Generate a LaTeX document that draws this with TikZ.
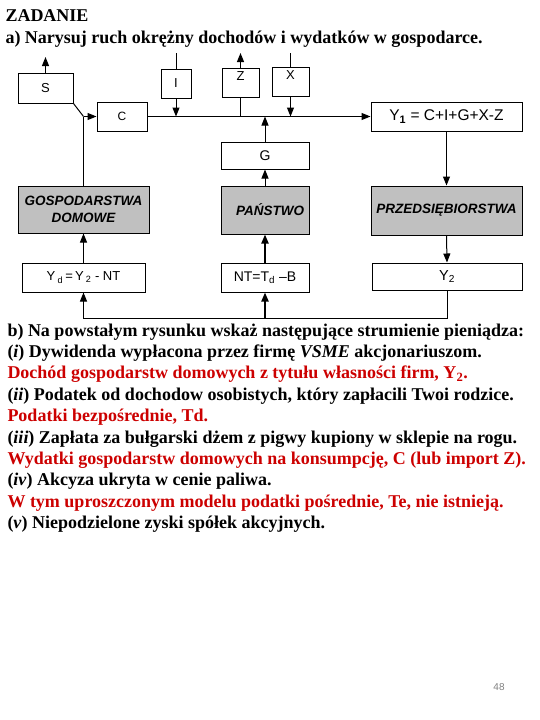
\documentclass[tikz,border=0pt]{standalone}
\usepackage{fontspec}
\setmainfont{Liberation Serif}
\setsansfont{Liberation Sans}
\usetikzlibrary{arrows.meta}

\definecolor{answer}{RGB}{204,0,0}
\definecolor{sectorgray}{RGB}{192,192,192}

\tikzset{
  flow/.style={rectangle,draw,line width=1pt,inner sep=0pt,font=\sffamily\fontsize{13}{13}\selectfont},
  sector/.style={flow,fill=sectorgray,align=center,font=\sffamily\bfseries\itshape\fontsize{13.5}{17}\selectfont},
  arr/.style={-{Triangle[length=9pt,width=7pt]}},
  heavy/.style={line width=2pt},
  textline/.style={anchor=base west,inner sep=0pt,font=\bfseries\fontsize{18}{18}\selectfont},
}

\begin{document}
\begin{tikzpicture}[x=1pt,y=-1pt,line width=1pt]

    \useasboundingbox (0,0) rectangle (540,720);

    % task text
    \node[textline] (title) at (5,21) {ZADANIE};
    \node[textline] (taskA) at (5,43.5) {a) Narysuj ruch okrężny dochodów i wydatków w gospodarce.};

    % top row
    \node[flow,minimum width=55pt,minimum height=30pt] (S) at (45.5,88) {S};
    \node[flow,minimum width=30pt,minimum height=29pt] (I) at (176,83.5) {I};
    \node[flow,minimum width=37pt,minimum height=29pt,text depth=12pt] (Z) at (240.5,82.5) {Z};
    \node[flow,minimum width=37pt,minimum height=29pt,text depth=12pt] (X) at (290.5,81.5) {X};
    \node[flow,minimum width=50pt,minimum height=29pt,font=\sffamily\fontsize{12}{12}\selectfont] (C) at (122,116.5) {C};
    \node[flow,minimum width=151pt,minimum height=29pt,font=\sffamily\fontsize{15.5}{15.5}\selectfont] (Y1) at (446.5,116.5)
        {Y\textsubscript{\textbf{1}} = C+I+G+X-Z};
    \node[flow,minimum width=88pt,minimum height=27pt,font=\sffamily\fontsize{14}{14}\selectfont] (G) at (265,155.5) {G};

    % sectors
    \node[sector,minimum width=131pt,minimum height=47pt] (H) at (83.5,209.5) {GOSPODARSTWA\\DOMOWE};
    \node[sector,minimum width=88pt,minimum height=48pt] (P) at (265,210) {\hspace*{10pt}PAŃSTWO};
    \node[sector,minimum width=151pt,minimum height=49pt] (F) at (446.5,210.5) {PRZEDSIĘBIORSTWA};

    % incomes
    \node[flow,minimum width=123pt,minimum height=29pt] (Yd) at (83.5,277.5)
        {Y\,\textsubscript{d}\,=\,Y\,\textsubscript{2} - NT};
    \node[flow,minimum width=88pt,minimum height=29pt,font=\sffamily\fontsize{14}{14}\selectfont] (NT) at (265,277.5) {NT=T\textsubscript{d} –B};
    \node[flow,minimum width=150pt,minimum height=27pt,font=\sffamily\fontsize{14.5}{14.5}\selectfont] (Y2) at (447,276.5) {Y\textsubscript{2}};

    % free ends
    \coordinate (Sout) at (45.5,57);
    \coordinate (Iin) at (176,53);
    \coordinate (Zout) at (240.5,53);
    \coordinate (Xin) at (290.5,53);
    \coordinate (loop) at ([yshift=-26pt]Yd.south);

    % connectors
    \draw[arr] (S.north) -- (Sout);
    \draw (Iin) -- (I.north);
    \draw[arr] (I.south) -- (I.south |- C.east);
    \draw[arr] (Z.north) -- (Zout);
    \draw (Z.south) -- (Z.south |- C.east);
    \draw (Xin) -- (X.north);
    \draw[arr] (X.south) -- (X.south |- C.east);
    \draw[arr] (C.east) -- (Y1.west);
    \draw[arr] (G.north) -- (G.north |- C.east);
    \draw[arr] (P.north) -- (G.south);
    \draw[arr] (Y1.south) -- (F.north);
    \draw[arr] (F.south) -- (Y2.north);
    \draw (Y2.south) |- (loop);
    \draw[arr] (loop) -- (Yd.south);
    \draw[arr,heavy] (NT.south |- loop) -- (NT.south);
    \draw[arr,heavy] (NT.north) -- (P.south);
    \draw[arr] (Yd.north) -- (H.south);
    \draw (H.north) -- (H.north |- C.west) coordinate (join);
    \draw[arr] (join) -- (C.west);
    \draw (S.south east) -- (join);

    % task b
    \node[textline] (taskB) at (7,336) {b) Na powstałym rysunku wskaż następujące strumienie pieniądza:};
    \node[textline] (q1) at (7,357.4) {(\textit{i}) Dywidenda wypłacona przez firmę \textit{VSME} akcjonariuszom.};
    \node[textline,text=answer] (a1) at (7,378.8) {Dochód gospodarstw domowych z tytułu własności firm, Y\textsubscript{2}.};
    \node[textline] (q2) at (7,400.2) {(\textit{ii}) Podatek od dochodow osobistych, który zapłacili Twoi rodzice.};
    \node[textline,text=answer] (a2) at (7,421.6) {Podatki bezpośrednie, Td.};
    \node[textline] (q3) at (7,443) {(\textit{iii}) Zapłata za bułgarski dżem z pigwy kupiony w sklepie na rogu.};
    \node[textline,text=answer] (a3) at (7,464.4) {Wydatki gospodarstw domowych na konsumpcję, C (lub import Z).};
    \node[textline] (q4) at (7,485.8) {(\textit{iv}) Akcyza ukryta w cenie paliwa.};
    \node[textline,text=answer] (a4) at (7,507.2) {W tym uproszczonym modelu podatki pośrednie, Te, nie istnieją.};
    \node[textline] (q5) at (7,528.6) {(\textit{v}) Niepodzielone zyski spółek akcyjnych.};

    \node[font=\sffamily\fontsize{10}{10}\selectfont,text=gray] (page) at (499,687) {48};

\end{tikzpicture}
\end{document}
